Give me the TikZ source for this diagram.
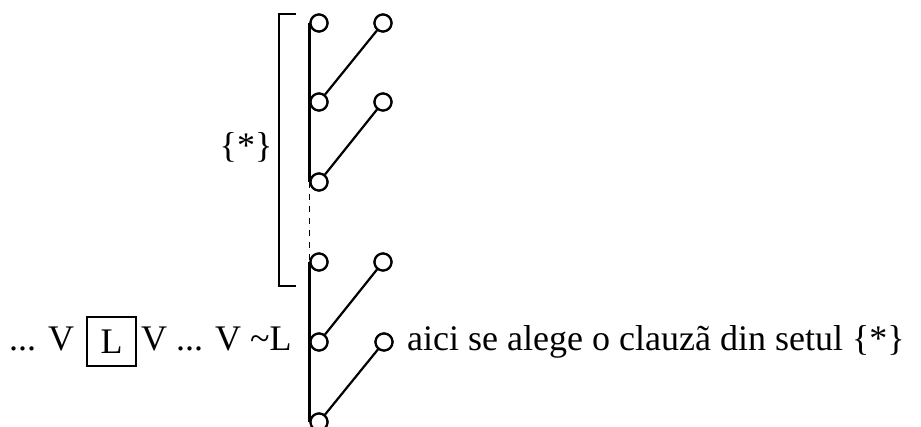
\documentclass[tikz,border=0pt]{standalone}
\usepackage{fontspec}
\setmainfont{Liberation Serif}
\usepackage{tikz}
\usetikzlibrary{positioning}
\tikzset{
  lit/.style={inner sep=0pt, font=\fontsize{36}{42}\selectfont},
  litbox/.style={draw, line width=2pt, minimum size=49pt, inner sep=0pt, font=\fontsize{36}{42}\selectfont},
  knot/.style={draw, circle, fill=white, line width=2.2pt, minimum size=17pt, inner sep=0pt},
  branch/.style={line width=2.2pt},
  gap/.style={line width=1.2pt, dash pattern=on 6pt off 6pt}
}
\begin{document}
\begin{tikzpicture}[x=1pt, y=-1pt]
  \useasboundingbox (0,0) rectangle (921,427);

  % left column of the tree
  \node[knot] (l1) at (319,23) {};
  \node[knot] (l2) at (319,102) {};
  \node[knot] (l3) at (319,182) {};
  \node[knot] (l4) at (319,262) {};
  \node[knot] (l5) at (319,342) {};
  \node[knot] (l6) at (319,422) {};
  % right column
  \node[knot] (r1) at (383,23) {};
  \node[knot] (r2) at (383,102) {};
  \node[knot] (r4) at (383,262) {};
  \node[knot] (r5) at (384,342) {};

  \draw[branch] (l1.west) -- (l3.west);
  \draw[gap] (l3.west) -- (l4.west);
  \draw[branch] (l4.west) -- (l6.west);
  \draw[branch] (l2) -- (r1);
  \draw[branch] (l3) -- (r2);
  \draw[branch] (l5) -- (r4);
  \draw[branch] (l6) -- (r5);
  \foreach \k in {l1,l2,l3,l4,l5,l6,r1,r2,r4,r5}
    \node[knot] at (\k) {};

  % bracket round the set
  \draw[branch] (296,14) -- (279,14) -- (279,286) -- (296,286);
  \node[lit] (set) at (246,147) {\{*\}};

  % the clause
  \node[lit, anchor=base west] (pre) at (9,351) {... V};
  \node[litbox] (chosen) at (111.5,341.5) {L};
  \node[lit, anchor=base west] (post) at (141,351) {V ... V \textasciitilde L};
  \node[lit, anchor=base west] (note) at (407,351) {aici se alege o clauzã din setul \{*\}};
\end{tikzpicture}
\end{document}
